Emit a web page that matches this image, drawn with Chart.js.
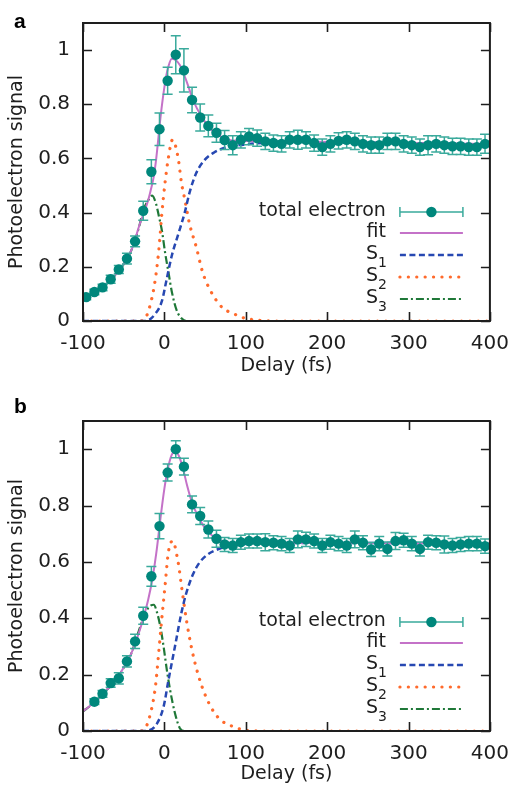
<!DOCTYPE html>
<html>
<head>
<meta charset="utf-8">
<script src="https://cdn.jsdelivr.net/npm/chart.js@4.4.1/dist/chart.umd.min.js"></script>
<style>
html, body { margin: 0; padding: 0; background: #fff; }
#wrap { position: relative; width: 520px; height: 786px; }
canvas { position: absolute; left: 0; }
#chartA { top: 0; }
#chartB { top: 390px; }
</style>
</head>
<body>
<div id="wrap">
  <canvas id="chartA" width="520" height="380"></canvas>
  <canvas id="chartB" width="520" height="396"></canvas>
</div>
<script>
// axis ticks and labels
const xTicks = [-100, 0, 100, 200, 300, 400];
const yTicks = [0, 0.2, 0.4, 0.6, 0.8, 1];
const xTitle = 'Delay (fs)';
const yTitle = 'Photoelectron signal';
const legendNames = ['total electron', 'fit', 'S_1', 'S_2', 'S_3'];

// panel a : measured points
const delayA = [-96, -86, -76, -66, -56, -46, -36, -26, -16, -6, 4, 14, 24, 34, 44, 54, 64, 74, 84, 94,
  104, 114, 124, 134, 144, 154, 164, 174, 184, 194, 204, 214, 224, 234, 244, 254, 264, 274, 284, 294,
  304, 314, 324, 334, 344, 354, 364, 374, 384, 394];
const signalA = [0.088, 0.107, 0.124, 0.154, 0.19, 0.23, 0.294, 0.407, 0.551, 0.708, 0.887, 0.983, 0.925, 0.816, 0.751, 0.72, 0.695, 0.668, 0.649, 0.669,
  0.681, 0.675, 0.663, 0.657, 0.654, 0.669, 0.669, 0.669, 0.657, 0.642, 0.654, 0.665, 0.669, 0.663, 0.654, 0.649, 0.649, 0.663, 0.663, 0.654,
  0.649, 0.642, 0.649, 0.654, 0.649, 0.645, 0.645, 0.642, 0.642, 0.654];
const errA = [0.01, 0.01, 0.012, 0.015, 0.015, 0.02, 0.02, 0.035, 0.044, 0.06, 0.05, 0.07, 0.08, 0.047, 0.05, 0.04, 0.035, 0.035, 0.035, 0.03,
  0.03, 0.03, 0.03, 0.03, 0.03, 0.03, 0.035, 0.03, 0.03, 0.03, 0.03, 0.03, 0.03, 0.03, 0.03, 0.03, 0.03, 0.03, 0.03, 0.03,
  0.03, 0.03, 0.035, 0.03, 0.03, 0.03, 0.03, 0.03, 0.03, 0.035];

// panel a : fit and components
const fitDelayA = [-100, -90, -80, -70, -60, -50, -40, -30, -25, -20, -17, -13, -10, -5, -2, 2, 5, 9, 13, 19, 24, 29, 34, 40, 45, 50, 55, 60, 70, 80, 90, 150, 250, 400];
const fitA = [0.08, 0.098, 0.115, 0.14, 0.17, 0.21, 0.265, 0.36, 0.40, 0.445, 0.48, 0.534, 0.6, 0.745, 0.82, 0.9, 0.94, 0.968, 0.965, 0.945, 0.91, 0.87, 0.825, 0.785, 0.76, 0.735, 0.715, 0.70, 0.68, 0.668, 0.665, 0.663, 0.659, 0.653];
const s1DelayA = [-100, -30, -23, -11, -3, 3, 9, 17, 25, 31, 39, 49, 61, 77, 97, 121, 160, 250, 400];
const s1A = [0, 0, 0, 0.027, 0.074, 0.157, 0.24, 0.32, 0.40, 0.475, 0.545, 0.593, 0.622, 0.642, 0.651, 0.657, 0.66, 0.658, 0.652];
const s2DelayA = [-100, -30, -25, -17, -11, -6.4, -3.3, 0.8, 4.8, 10, 17, 21, 25, 31, 39, 47, 57, 71, 85, 99, 113, 140, 400];
const s2A = [0, 0, 0.004, 0.064, 0.157, 0.275, 0.39, 0.51, 0.60, 0.669, 0.60, 0.51, 0.45, 0.357, 0.275, 0.18, 0.11, 0.05, 0.027, 0.01, 0.004, 0, 0];
const s3DelayA = [-100, -90, -80, -70, -60, -50, -40, -30, -27, -20, -15, -10, -7, -3, 1, 5, 9, 15, 21, 27, 400];
const s3A = [0.08, 0.098, 0.115, 0.14, 0.17, 0.21, 0.265, 0.36, 0.40, 0.445, 0.463, 0.43, 0.39, 0.333, 0.25, 0.18, 0.11, 0.04, 0.01, 0, 0];

// panel b : measured points
const delayB = [-86, -76, -66, -56, -46, -36, -26, -16, -6, 4, 14, 24, 34, 44, 54, 64, 74, 84, 94,
  104, 114, 124, 134, 144, 154, 164, 174, 184, 194, 204, 214, 224, 234, 244, 254, 264, 274, 284, 294,
  304, 314, 324, 334, 344, 354, 364, 374, 384, 394];
const signalB = [0.104, 0.132, 0.17, 0.187, 0.247, 0.318, 0.409, 0.549, 0.727, 0.917, 1.0, 0.938, 0.804, 0.763, 0.715, 0.682, 0.662, 0.658, 0.67,
  0.674, 0.674, 0.67, 0.668, 0.665, 0.658, 0.68, 0.68, 0.674, 0.658, 0.67, 0.665, 0.658, 0.68, 0.668, 0.644, 0.665, 0.646, 0.674, 0.677,
  0.665, 0.646, 0.67, 0.668, 0.662, 0.658, 0.662, 0.665, 0.665, 0.656];
const errB = [0.01, 0.012, 0.015, 0.02, 0.02, 0.025, 0.03, 0.035, 0.045, 0.03, 0.03, 0.03, 0.03, 0.03, 0.03, 0.03, 0.025, 0.025, 0.025,
  0.025, 0.025, 0.03, 0.025, 0.025, 0.025, 0.03, 0.025, 0.025, 0.025, 0.025, 0.025, 0.025, 0.03, 0.025, 0.025, 0.025, 0.025, 0.03, 0.025,
  0.025, 0.025, 0.025, 0.025, 0.03, 0.025, 0.025, 0.025, 0.025, 0.025];

// panel b : fit and components
const fitDelayB = [-100, -90, -80, -70, -60, -50, -40, -30, -25, -20, -15, -10, -5, 0, 5, 10, 14, 18, 23, 28, 34, 40, 50, 60, 70, 80, 95, 150, 250, 400];
const fitB = [0.07, 0.092, 0.118, 0.148, 0.18, 0.225, 0.28, 0.36, 0.41, 0.465, 0.535, 0.63, 0.75, 0.86, 0.94, 0.985, 0.99, 0.975, 0.93, 0.87, 0.81, 0.77, 0.72, 0.69, 0.675, 0.668, 0.666, 0.667, 0.667, 0.665];
const s1DelayB = [-100, -25, -19, -9, -1, 5, 13, 21, 27, 35, 43, 53, 65, 77, 95, 130, 250, 400];
const s1B = [0, 0, 0.002, 0.027, 0.086, 0.18, 0.30, 0.42, 0.49, 0.555, 0.597, 0.626, 0.644, 0.656, 0.663, 0.667, 0.667, 0.665];
const s2DelayB = [-100, -30, -25, -17, -11, -7, -3.3, 0.8, 4.8, 10, 17, 21, 27, 33, 41, 51, 65, 85, 105, 130, 400];
const s2B = [0, 0, 0.004, 0.063, 0.158, 0.277, 0.395, 0.514, 0.632, 0.674, 0.597, 0.514, 0.395, 0.30, 0.205, 0.122, 0.051, 0.015, 0.001, 0, 0];
const s3DelayB = [-100, -90, -80, -70, -60, -50, -40, -35, -25, -19, -13, -9, -5, -1, 3, 7, 13, 19, 25, 400];
const s3B = [0.07, 0.092, 0.118, 0.148, 0.18, 0.225, 0.28, 0.324, 0.407, 0.44, 0.448, 0.42, 0.371, 0.30, 0.217, 0.146, 0.063, 0.01, 0, 0];

const FONT = '"DejaVu Sans", sans-serif';
const INK = '#1e1e1e';
const TEAL = '#00877c';
const TEAL_BAR = '#3aaa9c';
const PINK = '#c472c8';
const BLUE = '#2748b2';
const ORANGE = '#ff6a2c';
const GREEN = '#1f7838';

function pts(xs, ys) {
  return xs.map((x, i) => ({ x: x, y: ys[i] }));
}

// frame, inward ticks, error bars, legend and panel letter
const decor = {
  id: 'decor',
  beforeDatasetDraw(chart, args) {
    const ds = chart.data.datasets[args.index];
    if (!ds.errors) return;
    const ctx = chart.ctx, a = chart.chartArea;
    const xs = chart.scales.x, ys = chart.scales.y;
    ctx.save();
    ctx.beginPath();
    ctx.rect(a.left, a.top, a.width, a.height);
    ctx.clip();
    ctx.strokeStyle = TEAL_BAR;
    ctx.lineWidth = 1.5;
    ds.data.forEach((p, i) => {
      const px = xs.getPixelForValue(p.x);
      const lo = ys.getPixelForValue(p.y - ds.errors[i]);
      const hi = ys.getPixelForValue(p.y + ds.errors[i]);
      ctx.beginPath();
      ctx.moveTo(px, lo); ctx.lineTo(px, hi);
      ctx.moveTo(px - 5, lo); ctx.lineTo(px + 5, lo);
      ctx.moveTo(px - 5, hi); ctx.lineTo(px + 5, hi);
      ctx.stroke();
    });
    ctx.restore();
  },
  afterDraw(chart, args, opts) {
    const ctx = chart.ctx, a = chart.chartArea;
    const xs = chart.scales.x, ys = chart.scales.y;
    ctx.save();
    ctx.strokeStyle = INK;
    ctx.lineWidth = 1.6;
    ctx.beginPath();
    xTicks.forEach(t => {
      const px = Math.round(xs.getPixelForValue(t)) + 0.5;
      ctx.moveTo(px, a.bottom); ctx.lineTo(px, a.bottom - 9);
      ctx.moveTo(px, a.top); ctx.lineTo(px, a.top + 9);
    });
    yTicks.forEach(t => {
      const py = Math.round(ys.getPixelForValue(t)) + 0.5;
      ctx.moveTo(a.left, py); ctx.lineTo(a.left + 9, py);
      ctx.moveTo(a.right, py); ctx.lineTo(a.right - 9, py);
    });
    ctx.stroke();
    ctx.lineWidth = 2;
    ctx.strokeRect(a.left, a.top, a.right - a.left, a.bottom - a.top);

    // legend
    const rows = [109, 88, 66, 44, 22];
    const textRight = a.right - 104;
    const s0 = a.right - 90, s1 = a.right - 27;
    const styles = [
      null,
      { color: PINK, dash: [], width: 2, cap: 'butt' },
      { color: BLUE, dash: [6, 3.5], width: 2.5, cap: 'butt' },
      { color: ORANGE, dash: [0.1, 8.3], width: 3.2, cap: 'round' },
      { color: GREEN, dash: [8, 3, 2, 3], width: 2.2, cap: 'butt' }
    ];
    ctx.fillStyle = INK;
    ctx.textBaseline = 'middle';
    legendNames.forEach((name, i) => {
      const y = a.bottom - rows[i];
      const parts = name.split('_');
      ctx.textAlign = 'right';
      if (parts.length === 2) {
        ctx.font = '14px ' + FONT;
        const subW = ctx.measureText(parts[1]).width;
        ctx.fillText(parts[1], textRight + 1, y + 8);
        ctx.font = '19px ' + FONT;
        ctx.fillText(parts[0], textRight + 1 - subW, y - 1);
      } else {
        ctx.font = '19px ' + FONT;
        ctx.fillText(name, textRight, y - 1);
      }
      if (i === 0) {
        ctx.strokeStyle = TEAL_BAR;
        ctx.lineWidth = 1.5;
        ctx.setLineDash([]);
        ctx.beginPath();
        ctx.moveTo(s0, y); ctx.lineTo(s1, y);
        ctx.moveTo(s0, y - 5); ctx.lineTo(s0, y + 5);
        ctx.moveTo(s1, y - 5); ctx.lineTo(s1, y + 5);
        ctx.stroke();
        ctx.fillStyle = TEAL;
        ctx.beginPath();
        ctx.arc((s0 + s1) / 2, y, 5.2, 0, Math.PI * 2);
        ctx.fill();
        ctx.fillStyle = INK;
      } else {
        const st = styles[i];
        ctx.strokeStyle = st.color;
        ctx.lineWidth = st.width;
        ctx.lineCap = st.cap;
        ctx.setLineDash(st.dash);
        ctx.beginPath();
        ctx.moveTo(s0, y); ctx.lineTo(s1, y);
        ctx.stroke();
        ctx.setLineDash([]);
        ctx.lineCap = 'butt';
      }
    });

    // panel letter
    ctx.font = 'bold 21px "Liberation Sans", Arial, sans-serif';
    ctx.textAlign = 'left';
    ctx.textBaseline = 'alphabetic';
    ctx.fillStyle = '#000';
    ctx.fillText(opts.letter, 14, opts.letterY);
    ctx.restore();
  }
};

function makeChart(id, p) {
  const canvas = document.getElementById(id);
  const H = canvas.height;
  return new Chart(canvas, {
    type: 'line',
    data: {
      datasets: [
        {
          label: legendNames[0], data: pts(p.delay, p.signal), errors: p.err,
          showLine: false, pointRadius: 5.2, pointBorderWidth: 0,
          pointBackgroundColor: TEAL, pointBorderColor: TEAL
        },
        {
          label: legendNames[1], data: pts(p.fitDelay, p.fit), borderColor: PINK,
          borderWidth: 2, pointRadius: 0, cubicInterpolationMode: 'monotone'
        },
        {
          label: legendNames[2], data: pts(p.s1Delay, p.s1), borderColor: BLUE,
          borderWidth: 2.5, borderDash: [6, 3.5], pointRadius: 0, cubicInterpolationMode: 'monotone'
        },
        {
          label: legendNames[3], data: pts(p.s2Delay, p.s2), borderColor: ORANGE,
          borderWidth: 3.2, borderDash: [0.1, 8.3], borderCapStyle: 'round', pointRadius: 0,
          cubicInterpolationMode: 'monotone'
        },
        {
          label: legendNames[4], data: pts(p.s3Delay, p.s3), borderColor: GREEN,
          borderWidth: 2.2, borderDash: [8, 3, 2, 3], pointRadius: 0, cubicInterpolationMode: 'monotone'
        }
      ]
    },
    options: {
      responsive: false,
      animation: false,
      events: [],
      layout: { padding: { top: p.top, right: 22, left: 0, bottom: 0 } },
      plugins: {
        legend: { display: false },
        tooltip: { enabled: false },
        decor: { letter: p.letter, letterY: p.letterY }
      },
      scales: {
        x: {
          type: 'linear', min: -100, max: 400,
          grid: { display: false, drawTicks: false },
          border: { display: false },
          afterBuildTicks: s => { s.ticks = xTicks.map(v => ({ value: v })); },
          afterFit: s => { s.height = H - p.bottom; },
          ticks: { color: INK, padding: 11, maxRotation: 0, autoSkip: false, font: { family: FONT, size: 20 },
            callback: v => String(v) },
          title: { display: true, text: xTitle, color: INK, font: { family: FONT, size: 19, lineHeight: 1 }, padding: { top: 0, bottom: p.titlePad } }
        },
        y: {
          type: 'linear', min: 0, max: 1.1,
          grid: { display: false, drawTicks: false },
          border: { display: false },
          afterBuildTicks: s => { s.ticks = yTicks.map(v => ({ value: v })); },
          afterFit: s => { s.width = 83; },
          ticks: { color: INK, padding: 13, font: { family: FONT, size: 20, lineHeight: 1 },
            callback: v => String(v) },
          title: { display: true, text: yTitle, color: INK, font: { family: FONT, size: 19, lineHeight: 1 }, padding: { top: 8, bottom: 0 } }
        }
      }
    },
    plugins: [decor]
  });
}

makeChart('chartA', {
  delay: delayA, signal: signalA, err: errA,
  fitDelay: fitDelayA, fit: fitA, s1Delay: s1DelayA, s1: s1A,
  s2Delay: s2DelayA, s2: s2A, s3Delay: s3DelayA, s3: s3A,
  top: 10, bottom: 321, titlePad: 4.5, letter: 'a', letterY: 28
});
makeChart('chartB', {
  delay: delayB, signal: signalB, err: errB,
  fitDelay: fitDelayB, fit: fitB, s1Delay: s1DelayB, s1: s1B,
  s2Delay: s2DelayB, s2: s2B, s3Delay: s3DelayB, s3: s3B,
  top: 31, bottom: 341, titlePad: 2.5, letter: 'b', letterY: 23
});
</script>
</body>
</html>
